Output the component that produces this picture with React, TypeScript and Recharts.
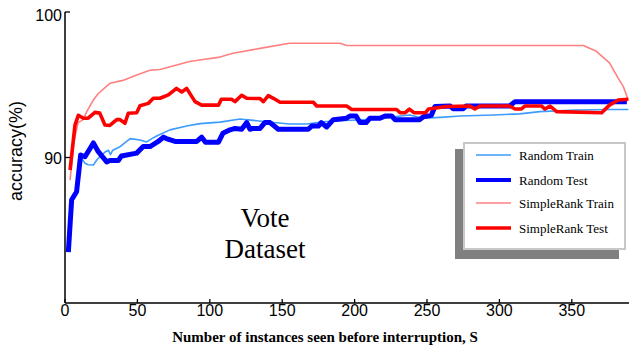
import { Legend, Line, LineChart, XAxis, YAxis } from 'recharts';

// x = number of instances seen (S), y = accuracy (%)
const randomTrainS = [9, 10.8, 13.8, 16, 19.6, 21.9, 24, 28, 30, 31.4, 33, 38, 45, 51.8, 56.4, 60, 63.3, 72.5, 84, 93.2, 107, 121, 125, 139, 155, 167, 178, 190, 201, 217.5, 231.4, 238, 247.5, 259, 273, 296, 314, 328, 353, 376, 389];
const randomTrainV = [90.0, 90.05, 89.6, 89.5, 89.48, 89.83, 90.05, 90.4, 90.5, 90.2, 90.5, 90.74, 91.3, 91.2, 91.07, 91.3, 91.48, 91.9, 92.16, 92.33, 92.43, 92.65, 92.6, 92.46, 92.3, 92.3, 92.46, 92.53, 92.58, 92.65, 92.85, 92.92, 92.7, 92.76, 92.85, 92.92, 93.0, 93.15, 93.26, 93.3, 93.3];

const randomTestS = [2.3, 4.6, 8, 10.8, 13.8, 19.6, 23, 28.8, 31, 36.8, 39, 49.5, 54, 58.7, 64.4, 68, 70, 76, 91, 94.4, 97, 106, 109, 114, 117.4, 122, 125.5, 127.8, 130, 134.7, 138, 141.6, 147.3, 168, 170.4, 175, 177, 180.7, 185.3, 194.5, 196.8, 201, 203.7, 208, 210.6, 217.5, 221, 225.6, 228, 245, 247.5, 253, 255.5, 266, 268, 275, 277, 307, 310.8, 388];
const randomTestV = [83.5, 87.1, 87.65, 90.17, 90.05, 91.0, 90.4, 89.7, 89.8, 89.8, 90.1, 90.3, 90.75, 90.75, 91.1, 91.4, 91.3, 91.1, 91.1, 91.4, 91.05, 91.05, 91.66, 91.9, 92.0, 91.94, 92.4, 91.94, 92.0, 92.0, 92.4, 92.4, 91.94, 91.94, 92.16, 92.16, 92.4, 92.1, 92.6, 92.7, 92.85, 92.85, 92.4, 92.4, 92.7, 92.7, 92.85, 92.85, 92.6, 92.6, 92.8, 92.9, 93.5, 93.54, 93.35, 93.35, 93.54, 93.54, 93.84, 93.84];

const rankTrainS = [3.5, 6, 9, 12.5, 15, 19.6, 23, 31, 40, 49.5, 58.7, 65.6, 86, 93, 107, 116, 134.7, 155, 190, 194.5, 358, 367, 376, 382, 385.6, 389];
const rankTrainV = [88.45, 91.0, 92.4, 92.6, 93.15, 93.95, 94.4, 95.1, 95.3, 95.67, 96.0, 96.05, 96.6, 96.7, 96.9, 97.16, 97.5, 97.85, 97.85, 97.7, 97.7, 97.3, 96.5, 95.45, 94.87, 93.95];

const rankTestS = [3.5, 6.9, 9.2, 12.7, 16, 20.7, 24, 27.6, 31, 35.7, 38, 41.4, 43.7, 49.5, 51.8, 57.5, 61, 65.6, 71.4, 77, 80.6, 84, 89.8, 94.4, 106, 108, 115, 117.4, 122, 125.5, 134.7, 137, 140.4, 143.9, 148.5, 171.5, 173.8, 194.5, 198, 229, 231.4, 235, 237.8, 241, 249, 251, 263.6, 279.7, 283, 286.6, 307, 310.8, 315, 317.7, 329, 331.5, 335, 339.5, 370.6, 376, 382, 389];
const rankTestV = [89.14, 92.23, 92.9, 92.7, 92.7, 93.1, 93.05, 92.23, 92.2, 92.6, 92.6, 92.35, 93.04, 93.08, 93.56, 93.72, 94.07, 94.07, 94.3, 94.75, 94.5, 94.75, 93.84, 93.6, 93.6, 94.0, 94.0, 93.84, 94.28, 94.07, 94.05, 93.84, 94.25, 94.07, 93.8, 93.8, 93.54, 93.54, 93.3, 93.3, 93.08, 93.08, 93.33, 93.08, 93.08, 93.33, 93.5, 93.54, 93.33, 93.54, 93.54, 93.33, 93.33, 93.54, 93.54, 93.33, 93.54, 93.15, 93.08, 93.6, 93.95, 94.0];

const xTicks = [0, 50, 100, 150, 200, 250, 300, 350];
const yTicks = [90, 100];

const toPoints = (s: number[], v: number[]) => s.map((x, i) => ({ s: x, v: v[i] }));

const SERIES = [
  { name: 'Random Train', data: toPoints(randomTrainS, randomTrainV), color: '#3d9bff', width: 1.6 },
  { name: 'Random Test', data: toPoints(randomTestS, randomTestV), color: '#0000ff', width: 5 },
  { name: 'SimpleRank Train', data: toPoints(rankTrainS, rankTrainV), color: '#ff8080', width: 1.6 },
  { name: 'SimpleRank Test', data: toPoints(rankTestS, rankTestV), color: '#ff0000', width: 3.6 },
];

const tickFont = '"Liberation Sans", Arial, sans-serif';
const serif = '"Liberation Serif", "Times New Roman", serif';

function XTick({ x, y, payload }: any) {
  return (
    <g>
      <line x1={x} x2={x} y1={y} y2={y - 4} stroke="#000" strokeWidth={1.3} />
      <text x={x} y={y + 13} textAnchor="middle" fontSize={16} fontFamily={tickFont} fill="#000">
        {payload.value}
      </text>
    </g>
  );
}

function YTick({ x, y, payload }: any) {
  const dy = payload.value === 100 ? 9 : 6;
  return (
    <g>
      <line x1={x} x2={x + 5} y1={y} y2={y} stroke="#000" strokeWidth={1.3} />
      <text x={x - 3} y={y + dy} textAnchor="end" fontSize={16} fontFamily={tickFont} fill="#000">
        {payload.value}
      </text>
    </g>
  );
}

function XLabel() {
  return (
    <text x={325} y={342} textAnchor="middle" fontSize={15} fontWeight="bold" fontFamily={serif} fill="#000">
      Number of instances seen before interruption, S
    </text>
  );
}

function YLabel() {
  return (
    <text
      x={22}
      y={151}
      transform="rotate(-90, 22, 151)"
      textAnchor="middle"
      fontSize={18}
      fontFamily='"Liberation Sans", Arial, sans-serif'
      fill="#000"
    >
      accuracy(%)
    </text>
  );
}

function LegendBox() {
  const rows = [13, 38, 61, 86];
  return (
    <svg width={171} height={118}>
      <rect x={0} y={7} width={164} height={110} fill="#808080" />
      <rect x={9} y={1} width={161} height={106} fill="#fff" stroke="#c8c8c8" strokeWidth={2} />
      {SERIES.map((s, i) => (
        <g key={s.name}>
          <line x1={21} x2={56} y1={rows[i]} y2={rows[i]} stroke={s.color} strokeWidth={Math.min(s.width, 4)} />
          <text x={64} y={rows[i] + 4.5} fontSize={13} fontFamily={serif} fill="#000">
            {s.name}
          </text>
        </g>
      ))}
    </svg>
  );
}

export default function App() {
  return (
    <div style={{ position: 'absolute', left: 0, top: 0, width: 629, height: 345, background: '#fff' }}>
      <LineChart width={629} height={345} margin={{ top: 12, right: 0, bottom: 0, left: 0 }}>
        <XAxis
          type="number"
          dataKey="s"
          domain={[0, 389.5]}
          ticks={xTicks}
          interval={0}
          allowDataOverflow
          height={42}
          tickLine={false}
          tickSize={0}
          tickMargin={0}
          tick={<XTick />}
          axisLine={{ stroke: '#000', strokeWidth: 1.5 }}
          label={<XLabel />}
        />
        <YAxis
          type="number"
          dataKey="v"
          domain={[80, 100]}
          ticks={yTicks}
          interval={0}
          allowDataOverflow
          width={65}
          tickLine={false}
          tickSize={0}
          tickMargin={0}
          tick={<YTick />}
          axisLine={{ stroke: '#000', strokeWidth: 1.5 }}
          label={<YLabel />}
        />
        <Legend
          layout="horizontal"
          verticalAlign="middle"
          wrapperStyle={{ left: 455, top: 142, width: 171, height: 118 }}
          content={() => <LegendBox />}
        />
        {SERIES.map((s) => (
          <Line
            key={s.name}
            data={s.data}
            dataKey="v"
            name={s.name}
            type="linear"
            stroke={s.color}
            strokeWidth={s.width}
            strokeLinejoin="round"
            dot={false}
            activeDot={false}
            isAnimationActive={false}
          />
        ))}
      </LineChart>
      <svg width={629} height={345} style={{ position: 'absolute', left: 0, top: 0, pointerEvents: 'none' }}>
        <text x={265} y={227} textAnchor="middle" fontSize={27} fontFamily={serif} fill="#000">
          Vote
        </text>
        <text x={265} y={258} textAnchor="middle" fontSize={27} fontFamily={serif} fill="#000">
          Dataset
        </text>
      </svg>
    </div>
  );
}
